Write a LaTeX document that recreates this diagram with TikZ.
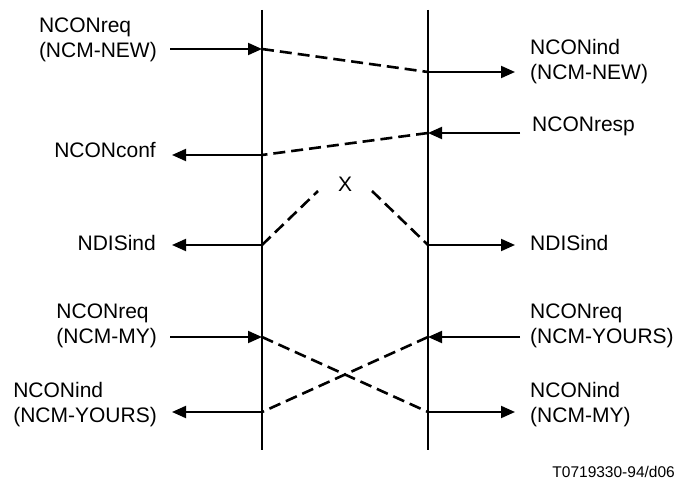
\documentclass[tikz,border=0pt]{standalone}
\usepackage{fontspec}
\setmainfont{Liberation Sans}
\usetikzlibrary{arrows.meta}
\begin{document}
\begin{tikzpicture}[x=1pt,y=-1pt,
  lbl/.style={inner sep=0pt,font=\fontsize{21}{25}\selectfont,align=left},
  msg/.style={line width=2pt,-{Triangle[length=14pt,width=12pt]}},
  flow/.style={line width=2.6pt,dash pattern=on 12pt off 6pt}]
\useasboundingbox (0,0) rectangle (677,481);
% lifelines
\coordinate (Ltop) at (262,10); \coordinate (Lbot) at (262,450);
\coordinate (Rtop) at (428,10); \coordinate (Rbot) at (428,450);
\draw[line width=2pt] (Ltop) -- (Lbot);
\draw[line width=2pt] (Rtop) -- (Rbot);
% points on lifelines
\coordinate (L1) at (262,49);  \coordinate (R1) at (428,72);
\coordinate (R2) at (428,133); \coordinate (L2) at (262,155);
\coordinate (L3) at (262,245); \coordinate (R3) at (428,245);
\coordinate (L4) at (262,337); \coordinate (R4) at (428,337);
\coordinate (L5) at (262,412); \coordinate (R5) at (428,412);
\coordinate (Xl) at (318,191); \coordinate (Xr) at (372,191);
% labels (base anchor = baseline of last line)
\node[lbl,anchor=base east] (a1) at (157,58) {NCONreq\\(NCM-NEW)};
\node[lbl,anchor=base west] (b1) at (530,80) {NCONind\\(NCM-NEW)};
\node[lbl,anchor=base west] (b2) at (532,132) {NCONresp};
\node[lbl,anchor=base east] (a2) at (156,158) {NCONconf};
\node[lbl,anchor=base east] (a3) at (156,250) {NDISind};
\node[lbl,anchor=base west] (b3) at (530,250) {NDISind};
\node[lbl,anchor=base] (x) at (345,192) {X};
\node[lbl,anchor=base east] (a4) at (157,343) {NCONreq\\(NCM-MY)};
\node[lbl,anchor=base west] (b4) at (530,343) {NCONreq\\(NCM-YOURS)};
\node[lbl,anchor=base east] (a5) at (157,422) {NCONind\\(NCM-YOURS)};
\node[lbl,anchor=base west] (b5) at (530,422) {NCONind\\(NCM-MY)};
\node[inner sep=0pt,font=\fontsize{15.5}{18}\selectfont,anchor=base east] (fig) at (675,477) {T0719330-94/d06};
% arrow tails
\coordinate (a1t) at (170,49);
\coordinate (b1t) at (515,72);
\coordinate (b2t) at (520,133);
\coordinate (a2t) at (172,155);
\coordinate (a3t) at (172,245);
\coordinate (b3t) at (515,245);
\coordinate (a4t) at (170,337);
\coordinate (b4t) at (520,337);
\coordinate (a5t) at (172,412);
\coordinate (b5t) at (515,412);
% messages
\draw[msg] (a1t) -- (L1);
\draw[msg] (R1) -- (b1t);
\draw[msg] (b2t) -- (R2);
\draw[msg] (L2) -- (a2t);
\draw[msg] (L3) -- (a3t);
\draw[msg] (R3) -- (b3t);
\draw[msg] (a4t) -- (L4);
\draw[msg] (b4t) -- (R4);
\draw[msg] (L5) -- (a5t);
\draw[msg] (R5) -- (b5t);
% flows
\draw[flow] (L1) -- (R1);
\draw[flow] (R2) -- (L2);
\draw[flow] (L3) -- (Xl);
\draw[flow] (Xr) -- (R3);
\draw[flow] (L4) -- (R5);
\draw[flow] (R4) -- (L5);
\end{tikzpicture}
\end{document}
